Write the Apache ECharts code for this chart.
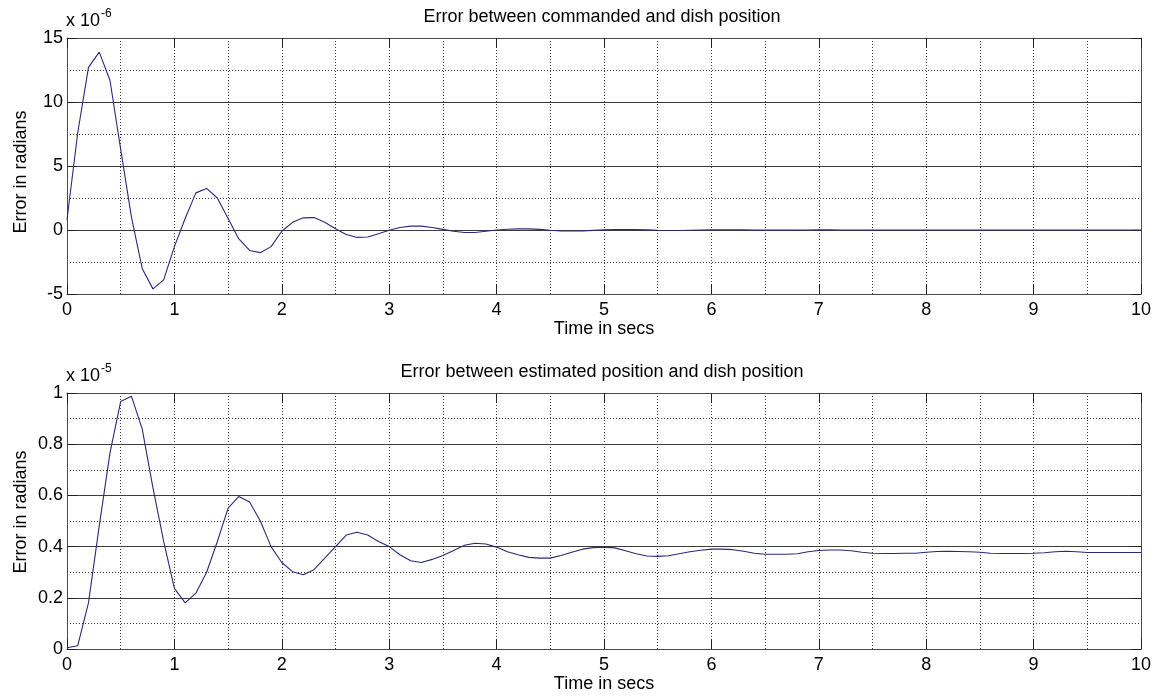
<!DOCTYPE html>
<html>
<head>
<meta charset="utf-8">
<script src="https://cdn.jsdelivr.net/npm/echarts@6/dist/echarts.min.js"></script>
<style>
  html, body { margin: 0; padding: 0; background: #fff; }
  #chart { width: 1159px; height: 696px; }
</style>
</head>
<body>
<div id="chart"></div>
<script>
// Sample times (s), 0.1 s step
const timeSecs = [
  0.0, 0.1, 0.2, 0.3, 0.4, 0.5, 0.6, 0.7, 0.8, 0.9,
  1.0, 1.1, 1.2, 1.3, 1.4, 1.5, 1.6, 1.7, 1.8, 1.9,
  2.0, 2.1, 2.2, 2.3, 2.4, 2.5, 2.6, 2.7, 2.8, 2.9,
  3.0, 3.1, 3.2, 3.3, 3.4, 3.5, 3.6, 3.7, 3.8, 3.9,
  4.0, 4.1, 4.2, 4.3, 4.4, 4.5, 4.6, 4.7, 4.8, 4.9,
  5.0, 5.1, 5.2, 5.3, 5.4, 5.5, 5.6, 5.7, 5.8, 5.9,
  6.0, 6.1, 6.2, 6.3, 6.4, 6.5, 6.6, 6.7, 6.8, 6.9,
  7.0, 7.1, 7.2, 7.3, 7.4, 7.5, 7.6, 7.7, 7.8, 7.9,
  8.0, 8.1, 8.2, 8.3, 8.4, 8.5, 8.6, 8.7, 8.8, 8.9,
  9.0, 9.1, 9.2, 9.3, 9.4, 9.5, 9.6, 9.7, 9.8, 9.9,
  10.0
];

// Commanded minus dish position, in units of 1e-6 rad
const commandedError = [
  0.8, 7.6, 12.7, 13.9, 11.7, 6.3, 1.0, -3.0, -4.6, -3.9,
  -1.3, 0.9, 2.9, 3.25, 2.5, 0.9, -0.7, -1.6, -1.77, -1.3,
  -0.1, 0.6, 0.95, 0.97, 0.6, 0.1, -0.35, -0.58, -0.55, -0.3,
  -0.02, 0.2, 0.3, 0.3, 0.2, 0.05, -0.1, -0.2, -0.19, -0.1,
  0.0, 0.06, 0.09, 0.09, 0.05, -0.02, -0.07, -0.08, -0.07, -0.03,
  0.01, 0.03, 0.04, 0.03, 0.01, -0.02, -0.04, -0.04, -0.02, 0.0,
  0.01, 0.02, 0.02, 0.01, 0.0, -0.01, -0.01, -0.01, 0.0, 0.0,
  0.01, 0.01, 0.0, 0.0, 0.0, -0.01, 0.0, 0.0, 0.0, 0.0,
  0.0, 0.0, 0.0, 0.0, 0.0, 0.0, 0.0, 0.0, 0.0, 0.0,
  0.0, 0.0, 0.0, 0.0, 0.0, 0.0, 0.0, 0.0, 0.0, 0.0,
  0.0
];

// Estimated minus dish position, in units of 1e-5 rad
const estimatedError = [
  0.005, 0.013, 0.18, 0.48, 0.765, 0.967, 0.987, 0.86, 0.63, 0.42,
  0.237, 0.18, 0.218, 0.30, 0.42, 0.55, 0.596, 0.574, 0.50, 0.40,
  0.338, 0.302, 0.29, 0.31, 0.355, 0.40, 0.445, 0.456, 0.445, 0.42,
  0.40, 0.368, 0.345, 0.338, 0.35, 0.365, 0.385, 0.405, 0.413, 0.41,
  0.398, 0.38, 0.368, 0.358, 0.355, 0.355, 0.365, 0.378, 0.39, 0.396,
  0.398, 0.395, 0.384, 0.372, 0.363, 0.362, 0.364, 0.372, 0.38, 0.386,
  0.39, 0.39, 0.388, 0.382, 0.374, 0.370, 0.370, 0.370, 0.372, 0.38,
  0.385, 0.387, 0.387, 0.384, 0.378, 0.374, 0.373, 0.373, 0.374, 0.374,
  0.378, 0.381, 0.382, 0.381, 0.380, 0.378, 0.374, 0.373, 0.373, 0.373,
  0.374, 0.376, 0.380, 0.382, 0.380, 0.377, 0.377, 0.377, 0.377, 0.377,
  0.377
];

// Tick values
const timeTicks = [0, 1, 2, 3, 4, 5, 6, 7, 8, 9, 10];
const commandedTicks = [-5, 0, 5, 10, 15];
const estimatedTicks = [0, 0.2, 0.4, 0.6, 0.8, 1];

const titles = [
  'Error between commanded and dish position',
  'Error between estimated position and dish position'
];
const xName = 'Time in secs';
const yName = 'Error in radians';
const exponents = ['-6', '-5'];

const FONT = '"Liberation Sans", Arial, Helvetica, sans-serif';
const TXT = '#000';
const FRAME = '#4a4a4a';
const LINE = '#2a2a78';

const plotLeft = 67, plotRight = 18, plotH = 256;
const plotTops = [38, 393];
const plotCenterX = plotLeft + (1159 - plotLeft - plotRight) / 2;

const dotted = { color: '#3a3a3a', width: 1, type: [1, 2] };

function pairs(values) {
  return timeSecs.map((t, i) => [t, values[i]]);
}

function xAxes(gridIndex) {
  const lo = timeTicks[0], hi = timeTicks[timeTicks.length - 1];
  const step = timeTicks[1] - timeTicks[0];
  return [
    {
      type: 'value', gridIndex, position: 'bottom', min: lo, max: hi, interval: step,
      name: xName, nameLocation: 'middle', nameGap: 26,
      nameTextStyle: { fontFamily: FONT, fontSize: 18, color: TXT },
      axisLine: { show: true, onZero: false, lineStyle: { color: FRAME, width: 1 } },
      axisTick: { show: true, inside: true, length: 10, lineStyle: { color: '#222', width: 1 } },
      axisLabel: { fontFamily: FONT, fontSize: 18, color: TXT, margin: 7 },
      splitLine: { show: true, lineStyle: dotted },
      minorTick: { show: false, splitNumber: 2 },
      minorSplitLine: { show: true, lineStyle: dotted }
    },
    {
      type: 'value', gridIndex, position: 'top', min: lo, max: hi, interval: step,
      axisLine: { show: true, onZero: false, lineStyle: { color: FRAME, width: 1 } },
      axisTick: { show: true, inside: true, length: 10, lineStyle: { color: '#222', width: 1 } },
      axisLabel: { show: false },
      splitLine: { show: false }
    }
  ];
}

function yAxes(gridIndex, ticks, fmt) {
  const lo = ticks[0], hi = ticks[ticks.length - 1];
  const step = +(ticks[1] - ticks[0]).toFixed(6);
  return [
    {
      type: 'value', gridIndex, position: 'left', min: lo, max: hi, interval: step,
      axisLine: { show: true, onZero: false, lineStyle: { color: FRAME, width: 1 } },
      axisTick: { show: true, inside: true, length: 10, lineStyle: { color: '#222', width: 1 } },
      axisLabel: { fontFamily: FONT, fontSize: 18, color: TXT, margin: 4, formatter: fmt },
      splitLine: { show: true, lineStyle: { color: '#3c3c3c', width: 1.2, type: 'solid' } },
      minorTick: { show: false, splitNumber: 2 },
      minorSplitLine: { show: true, lineStyle: dotted }
    },
    {
      type: 'value', gridIndex, position: 'right', min: lo, max: hi, interval: step,
      axisLine: { show: true, onZero: false, lineStyle: { color: FRAME, width: 1 } },
      axisTick: { show: true, inside: true, length: 10, lineStyle: { color: '#222', width: 1 } },
      axisLabel: { show: false },
      splitLine: { show: false }
    }
  ];
}

function multiplier(top, exp) {
  return {
    type: 'text', left: plotLeft - 1, top: top,
    style: {
      text: '{b|x 10}{s|' + exp + '}',
      rich: {
        b: { fontFamily: FONT, fontSize: 18, fill: TXT, verticalAlign: 'bottom' },
        s: { fontFamily: FONT, fontSize: 12, fill: TXT, verticalAlign: 'top', padding: [0, 0, 10, 1] }
      }
    }
  };
}

function titleText(top, text) {
  return {
    type: 'text', x: plotCenterX - 2, y: top,
    style: { text: text, fontFamily: FONT, fontSize: 18, fill: TXT, align: 'center', verticalAlign: 'top' }
  };
}

// Vertical y-axis caption, centred at (cx, cy)
function yCaption(cx, cy) {
  return {
    type: 'text', x: cx, y: cy, rotation: Math.PI / 2,
    style: { text: yName, fontFamily: FONT, fontSize: 18, fill: TXT, align: 'center', verticalAlign: 'middle' }
  };
}

const chart = echarts.init(document.getElementById('chart'), null, { renderer: 'canvas' });

chart.setOption({
  animation: false,
  backgroundColor: '#ffffff',
  grid: plotTops.map(t => ({ left: plotLeft, right: plotRight, top: t, height: plotH, show: false })),
  xAxis: [...xAxes(0), ...xAxes(1)],
  yAxis: [
    ...yAxes(0, commandedTicks, v => String(Math.round(v))),
    ...yAxes(1, estimatedTicks, v => String(+v.toFixed(1)))
  ],
  graphic: [
    titleText(plotTops[0] - 30, titles[0]),
    titleText(plotTops[1] - 30, titles[1]),
    multiplier(plotTops[0] - 30, exponents[0]),
    multiplier(plotTops[1] - 30, exponents[1]),
    yCaption(21, plotTops[0] + plotH / 2 + 6),
    yCaption(21, plotTops[1] + plotH / 2 - 9)
  ],
  series: [
    {
      type: 'line', xAxisIndex: 0, yAxisIndex: 0, data: pairs(commandedError),
      showSymbol: false, lineStyle: { color: LINE, width: 1.1 }, z: 5
    },
    {
      type: 'line', xAxisIndex: 2, yAxisIndex: 2, data: pairs(estimatedError),
      showSymbol: false, lineStyle: { color: LINE, width: 1.1 }, z: 5
    }
  ]
});
</script>
</body>
</html>
